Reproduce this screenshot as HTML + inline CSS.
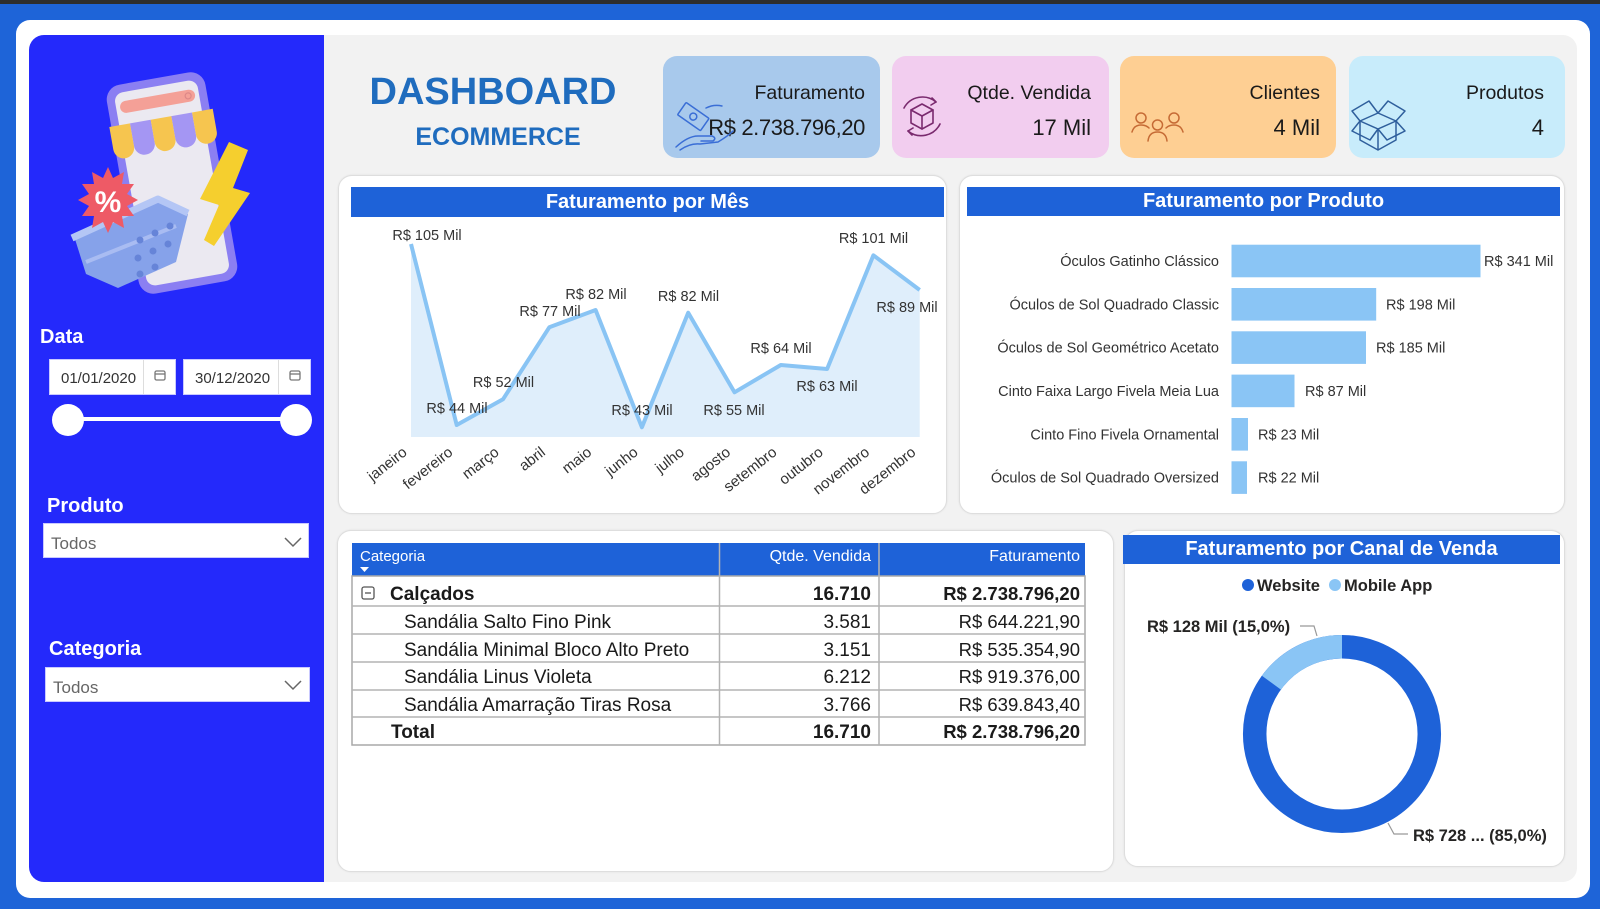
<!DOCTYPE html>
<html><head><meta charset="utf-8">
<style>
*{margin:0;padding:0;box-sizing:border-box}
body{width:1600px;height:909px;overflow:hidden;background:#1e64d8;font-family:"Liberation Sans",sans-serif;position:relative}
.a{position:absolute}
.panel{position:absolute;background:#fff;border:1.5px solid #dedede;border-radius:14px;box-shadow:0 0 2px rgba(0,0,0,0.08)}
.card{position:absolute;top:56px;height:102px;border-radius:14px}
.hdr{position:absolute;background:#1e62d8;color:#fff;font-weight:bold;font-size:20px;text-align:center}
</style></head><body>
<div class="a" style="left:0;top:0;width:1600px;height:4px;background:#2e2e2e"></div>
<div class="a" style="left:16px;top:20px;width:1574px;height:878px;background:#fff;border-radius:14px"></div>
<div class="a" style="left:29px;top:35px;width:295px;height:847px;background:#2429fb;border-radius:15px 0 0 15px"></div>
<div class="a" style="left:324px;top:35px;width:1253px;height:847px;background:#f2f2f2;border-radius:0 14px 14px 0"></div>

<!-- KPI cards -->
<div class="card" style="left:663px;width:217px;background:#a8c9ec"></div>
<div class="card" style="left:892px;width:217px;background:#f2cdef"></div>
<div class="card" style="left:1120px;width:216px;background:#fecf93"></div>
<div class="card" style="left:1349px;width:216px;background:#c8ecfb"></div>

<!-- panels -->
<div class="panel" style="left:338px;top:175px;width:609px;height:339px"></div>
<div class="panel" style="left:959px;top:175px;width:606px;height:339px"></div>
<div class="panel" style="left:337px;top:530px;width:777px;height:342px"></div>
<div class="panel" style="left:1124px;top:530px;width:441px;height:337px"></div>

<div class="hdr" style="left:351px;top:187px;width:593px;height:30px;line-height:30px">Faturamento por Mês</div>
<div class="hdr" style="left:967px;top:187px;width:593px;height:29px;line-height:29px">Faturamento por Produto</div>
<div class="hdr" style="left:1123px;top:535px;width:437px;height:29px;line-height:29px">Faturamento por Canal de Venda</div>

<!-- sidebar controls -->
<div class="a" style="left:49px;top:359px;width:127px;height:36px;background:#fff;border:1px solid #c9c9ff"></div>
<div class="a" style="left:143px;top:360px;width:1px;height:34px;background:#ddd"></div>
<div class="a" style="left:183px;top:359px;width:128px;height:36px;background:#fff;border:1px solid #c9c9ff"></div>
<div class="a" style="left:278px;top:360px;width:1px;height:34px;background:#ddd"></div>
<div class="a" style="left:43px;top:523px;width:266px;height:35px;background:#fff;border:1px solid #c9c9ff"></div>
<div class="a" style="left:45px;top:667px;width:265px;height:35px;background:#fff;border:1px solid #c9c9ff"></div>

<svg class="a" style="left:0;top:0" width="1600" height="909" viewBox="0 0 1600 909" xmlns="http://www.w3.org/2000/svg" font-family="Liberation Sans, sans-serif">
<!-- Illustration -->
<g transform="rotate(-10 172 183)">
  <rect x="122" y="77" width="100" height="212" rx="15" fill="#8b7ff2"/>
  <rect x="130" y="85" width="84" height="196" rx="9" fill="#ebe9f1"/>
  <rect x="134" y="94" width="76" height="12" rx="6" fill="#f4a097"/>
  <circle cx="203" cy="100" r="3" fill="none" stroke="#d88" stroke-width="1.2"/>
  <path d="M120 117 L141 117 L141 140 A10.5 10.5 0 0 1 120 140 Z" fill="#f6c54f"/>
  <path d="M141 117 L162 117 L162 140 A10.5 10.5 0 0 1 141 140 Z" fill="#a496f3"/>
  <path d="M162 117 L183 117 L183 140 A10.5 10.5 0 0 1 162 140 Z" fill="#f6c54f"/>
  <path d="M183 117 L204 117 L204 140 A10.5 10.5 0 0 1 183 140 Z" fill="#a496f3"/>
  <path d="M204 117 L225 117 L225 140 A10.5 10.5 0 0 1 204 140 Z" fill="#f6c54f"/>
</g>
<polygon points="229,142 248,150 233,188 250,193 214,246 204,240 219,205 200,199" fill="#f5cf2e"/>
<polygon points="74,236 158,200 188,214 176,262 118,288 86,274" fill="#86a2ea"/>
<path d="M72 238 L158 199 L188 213" fill="none" stroke="#b4c6f5" stroke-width="7" stroke-linejoin="round"/>
<path d="M86 262 L176 226" fill="none" stroke="#a9bcf2" stroke-width="4"/>
<g fill="#6684d8"><circle cx="140" cy="240" r="3.5"/><circle cx="155" cy="233" r="3.5"/><circle cx="170" cy="226" r="3.5"/><circle cx="138" cy="258" r="3.5"/><circle cx="153" cy="251" r="3.5"/><circle cx="168" cy="244" r="3.5"/><circle cx="140" cy="274" r="3.5"/><circle cx="155" cy="267" r="3.5"/></g>
<polygon points="108,167 113,178 124,172 122,184 134,184 127,194 138,200 127,206 134,216 122,216 124,228 113,222 108,233 103,222 92,228 94,216 82,216 89,206 78,200 89,194 82,184 94,184 92,172 103,178" fill="#ee5a66"/>
<text x="108" y="212" font-size="30" font-weight="bold" fill="#fff" text-anchor="middle">%</text>

<text x="40" y="343" font-size="20" font-weight="bold" fill="#fff">Data</text>
<text x="61" y="383" font-size="15" fill="#333">01/01/2020</text>
<text x="195" y="383" font-size="15" fill="#333">30/12/2020</text>
<rect x="155" y="371" width="10" height="9" rx="1.5" fill="none" stroke="#777" stroke-width="1.3"/>
<line x1="155" y1="374" x2="165" y2="374" stroke="#777" stroke-width="1.3"/>
<rect x="290" y="371" width="10" height="9" rx="1.5" fill="none" stroke="#777" stroke-width="1.3"/>
<line x1="290" y1="374" x2="300" y2="374" stroke="#777" stroke-width="1.3"/>
<line x1="68" y1="419" x2="296" y2="419" stroke="#fff" stroke-width="4"/>
<circle cx="68" cy="420" r="16" fill="#fff"/>
<circle cx="296" cy="420" r="16" fill="#fff"/>
<text x="47" y="512" font-size="20" font-weight="bold" fill="#fff">Produto</text>
<text x="51" y="549" font-size="17" fill="#666">Todos</text>
<polyline points="285,538 293,546 301,538" fill="none" stroke="#666" stroke-width="1.5"/>
<text x="49" y="655" font-size="20" font-weight="bold" fill="#fff">Categoria</text>
<text x="53" y="693" font-size="17" fill="#666">Todos</text>
<polyline points="285,681 293,689 301,681" fill="none" stroke="#666" stroke-width="1.5"/>

<!-- Title -->
<text x="493" y="104" font-size="38" font-weight="bold" fill="#1f6cbe" text-anchor="middle">DASHBOARD</text>
<text x="498" y="145" font-size="25" font-weight="bold" fill="#1f6cbe" text-anchor="middle">ECOMMERCE</text>

<!-- KPI text -->
<g fill="#1a1a1a" text-anchor="end">
<text x="865" y="99" font-size="19.5">Faturamento</text>
<text x="865" y="135" font-size="22" letter-spacing="-0.4">R$ 2.738.796,20</text>
<text x="1091" y="99" font-size="19.5">Qtde. Vendida</text>
<text x="1091" y="135" font-size="22">17 Mil</text>
<text x="1320" y="99" font-size="19.5">Clientes</text>
<text x="1320" y="135" font-size="22">4 Mil</text>
<text x="1544" y="99" font-size="19.5">Produtos</text>
<text x="1544" y="135" font-size="22">4</text>
</g>
<!-- KPI icons -->
<g fill="none" stroke="#3a6ed6" stroke-width="1.5" stroke-linejoin="round" stroke-linecap="round">
  <g transform="rotate(35 693 117)"><rect x="679" y="109" width="28" height="15" rx="1"/><circle cx="693" cy="116.5" r="3.5"/></g>
  <path d="M676 147 Q688 136 698 136 L712 136 Q717 138 713 141 L701 141"/>
  <path d="M680 150 Q690 143 700 144 L718 142 Q728 136 733 131"/>
  <path d="M706 108 Q714 104 722 106"/>
</g>
<g fill="none" stroke="#7a2a6e" stroke-width="1.6" stroke-linejoin="round" stroke-linecap="round">
  <path d="M904 108 A21 21 0 0 1 936 102"/><path d="M932 98 L936 102 L931 105"/>
  <path d="M940 124 A21 21 0 0 1 908 131"/><path d="M912 135 L908 131 L913 128"/>
  <polygon points="922,104 933,110 933,123 922,129 911,123 911,110"/>
  <polyline points="911,110 922,116 933,110"/><line x1="922" y1="116" x2="922" y2="129"/>
</g>
<g fill="none" stroke="#c66b35" stroke-width="1.5" stroke-linecap="round">
  <circle cx="1141" cy="118" r="5"/><circle cx="1174" cy="118" r="5"/><circle cx="1157.5" cy="125" r="5"/>
  <path d="M1132 132 Q1134 125 1141 125 Q1146 125 1149 128"/>
  <path d="M1183 132 Q1181 125 1174 125 Q1169 125 1166 128"/>
  <path d="M1148 141 Q1149 132 1157.5 132 Q1166 132 1167 141"/>
</g>
<g fill="none" stroke="#2f5f9c" stroke-width="1.5" stroke-linejoin="round">
  <polygon points="1360,121 1378,129 1396,121 1378,113"/>
  <polyline points="1360,121 1360,140 1378,150 1396,140 1396,121"/>
  <line x1="1378" y1="129" x2="1378" y2="150"/>
  <polyline points="1360,121 1352,111 1369,101 1378,113"/>
  <polyline points="1396,121 1405,111 1388,101 1378,113"/>
  <polyline points="1360,121 1352,131 1370,140 1378,129"/>
  <polyline points="1396,121 1405,131 1387,140 1378,129"/>
</g>

<!-- Line chart -->
<polygon points="411,437 411,244 456.7,425 503,399.3 549.3,327.3 595.6,310 641.9,427.3 688.2,312.7 734.5,392.3 780.8,365 827.1,369 873.4,255.3 919.7,290 919.7,437" fill="#dfeefb"/>
<polyline points="411,244 456.7,425 503,399.3 549.3,327.3 595.6,310 641.9,427.3 688.2,312.7 734.5,392.3 780.8,365 827.1,369 873.4,255.3 919.7,290" fill="none" stroke="#89c4f4" stroke-width="4" stroke-linejoin="round"/>
<g font-size="14.5" fill="#333" text-anchor="middle">
<text x="427" y="240">R$ 105 Mil</text>
<text x="457" y="413">R$ 44 Mil</text>
<text x="503.5" y="387">R$ 52 Mil</text>
<text x="550" y="316">R$ 77 Mil</text>
<text x="596" y="299">R$ 82 Mil</text>
<text x="642" y="415">R$ 43 Mil</text>
<text x="688.5" y="301">R$ 82 Mil</text>
<text x="734" y="415">R$ 55 Mil</text>
<text x="781" y="353">R$ 64 Mil</text>
<text x="827" y="391">R$ 63 Mil</text>
<text x="873.5" y="243">R$ 101 Mil</text>
<text x="907" y="312">R$ 89 Mil</text>
</g>
<g font-size="15" fill="#333" text-anchor="end">
<text transform="translate(408 454) rotate(-38)">janeiro</text>
<text transform="translate(453.7 454) rotate(-38)">fevereiro</text>
<text transform="translate(500 454) rotate(-38)">março</text>
<text transform="translate(546.3 454) rotate(-38)">abril</text>
<text transform="translate(592.6 454) rotate(-38)">maio</text>
<text transform="translate(638.9 454) rotate(-38)">junho</text>
<text transform="translate(685.2 454) rotate(-38)">julho</text>
<text transform="translate(731.5 454) rotate(-38)">agosto</text>
<text transform="translate(777.8 454) rotate(-38)">setembro</text>
<text transform="translate(824.1 454) rotate(-38)">outubro</text>
<text transform="translate(870.4 454) rotate(-38)">novembro</text>
<text transform="translate(916.7 454) rotate(-38)">dezembro</text>
</g>

<!-- Bar chart -->
<g fill="#8ac5f5">
<rect x="1231.5" y="244.7" width="249" height="32.6"/>
<rect x="1231.5" y="288" width="144.7" height="32.6"/>
<rect x="1231.5" y="331.3" width="134.5" height="32.6"/>
<rect x="1231.5" y="374.6" width="63" height="32.6"/>
<rect x="1231.5" y="418" width="16.5" height="32.6"/>
<rect x="1231.5" y="461.3" width="15.5" height="32.6"/>
</g>
<g font-size="14.5" fill="#333" text-anchor="end">
<text x="1219" y="266">Óculos Gatinho Clássico</text>
<text x="1219" y="309.3">Óculos de Sol Quadrado Classic</text>
<text x="1219" y="352.6">Óculos de Sol Geométrico Acetato</text>
<text x="1219" y="396">Cinto Faixa Largo Fivela Meia Lua</text>
<text x="1219" y="439.3">Cinto Fino Fivela Ornamental</text>
<text x="1219" y="482.6">Óculos de Sol Quadrado Oversized</text>
</g>
<g font-size="14.5" fill="#333">
<text x="1484" y="266">R$ 341 Mil</text>
<text x="1386" y="309.3">R$ 198 Mil</text>
<text x="1376" y="352.6">R$ 185 Mil</text>
<text x="1305" y="396">R$ 87 Mil</text>
<text x="1258" y="439.3">R$ 23 Mil</text>
<text x="1258" y="482.6">R$ 22 Mil</text>
</g>

<!-- Table -->
<rect x="352" y="543" width="733" height="33" fill="#1e62d8"/>
<rect x="352" y="576" width="733" height="169" fill="#fff" stroke="#a9a9a9" stroke-width="1.5"/>
<g stroke="#b3b3b3" stroke-width="1.5">
<line x1="352" y1="606" x2="1085" y2="606"/>
<line x1="352" y1="634" x2="1085" y2="634"/>
<line x1="352" y1="662" x2="1085" y2="662"/>
<line x1="352" y1="690" x2="1085" y2="690"/>
<line x1="352" y1="717" x2="1085" y2="717"/>
<line x1="719.5" y1="543" x2="719.5" y2="745"/>
<line x1="879" y1="543" x2="879" y2="745"/>
</g>
<text x="360" y="561" font-size="15" fill="#fff">Categoria</text>
<polygon points="360,567 369,567 364.5,572" fill="#fff"/>
<text x="871" y="561" font-size="16" fill="#fff" text-anchor="end">Qtde. Vendida</text>
<text x="1080" y="561" font-size="16" fill="#fff" text-anchor="end">Faturamento</text>
<rect x="362" y="587" width="12" height="12" rx="2" fill="none" stroke="#555" stroke-width="1.3"/>
<line x1="365" y1="593" x2="371" y2="593" stroke="#555" stroke-width="1.3"/>
<g font-size="19" fill="#1a1a1a">
<text x="390" y="600" font-weight="bold">Calçados</text>
<text x="871" y="600" font-weight="bold" text-anchor="end">16.710</text>
<text x="1080" y="600" font-weight="bold" text-anchor="end" font-size="18.5">R$ 2.738.796,20</text>
<text x="404" y="628">Sandália Salto Fino Pink</text>
<text x="871" y="628" text-anchor="end">3.581</text>
<text x="1080" y="628" text-anchor="end" font-size="18.5">R$ 644.221,90</text>
<text x="404" y="656">Sandália Minimal Bloco Alto Preto</text>
<text x="871" y="656" text-anchor="end">3.151</text>
<text x="1080" y="656" text-anchor="end" font-size="18.5">R$ 535.354,90</text>
<text x="404" y="683">Sandália Linus Violeta</text>
<text x="871" y="683" text-anchor="end">6.212</text>
<text x="1080" y="683" text-anchor="end" font-size="18.5">R$ 919.376,00</text>
<text x="404" y="711">Sandália Amarração Tiras Rosa</text>
<text x="871" y="711" text-anchor="end">3.766</text>
<text x="1080" y="711" text-anchor="end" font-size="18.5">R$ 639.843,40</text>
<text x="391" y="738" font-weight="bold">Total</text>
<text x="871" y="738" font-weight="bold" text-anchor="end">16.710</text>
<text x="1080" y="738" font-weight="bold" text-anchor="end" font-size="18.5">R$ 2.738.796,20</text>
</g>

<!-- Donut -->
<circle cx="1248" cy="585" r="6" fill="#1e62d8"/>
<text x="1257" y="591" font-size="16.5" font-weight="bold" fill="#252423">Website</text>
<circle cx="1335" cy="585" r="6" fill="#8ac5f5"/>
<text x="1344" y="591" font-size="16.5" font-weight="bold" fill="#252423">Mobile App</text>
<circle cx="1342" cy="734" r="87.3" fill="none" stroke="#1e62d8" stroke-width="23.5"/>
<path d="M1342 646.7 A87.3 87.3 0 0 0 1271.4 682.7" fill="none" stroke="#8ac5f5" stroke-width="23.5"/>
<polyline points="1300,626 1314,626 1317,636" fill="none" stroke="#999" stroke-width="1.2"/>
<polyline points="1388,823 1394,834 1408,834" fill="none" stroke="#999" stroke-width="1.2"/>
<text x="1147" y="632" font-size="16.5" font-weight="bold" fill="#252423">R$ 128 Mil (15,0%)</text>
<text x="1413" y="841" font-size="16.5" font-weight="bold" fill="#252423">R$ 728 ... (85,0%)</text>
</svg>
</body></html>
